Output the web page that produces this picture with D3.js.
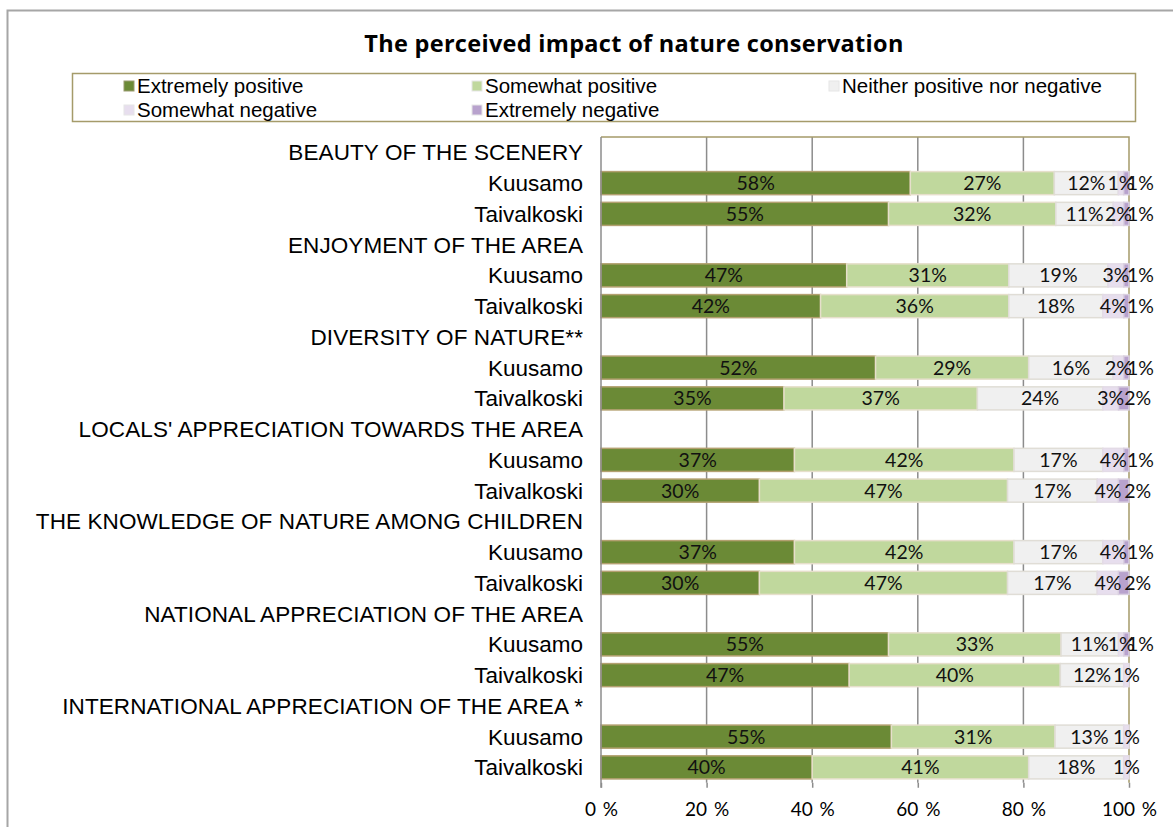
<!DOCTYPE html>
<html>
<head>
<meta charset="utf-8">
<script src="https://cdn.jsdelivr.net/npm/d3@7"></script>
<style>
  html, body { margin: 0; padding: 0; background: #fff; }
  svg { display: block; }
</style>
</head>
<body>
<svg id="chart" width="1173" height="827"></svg>
<script>
// Survey questions and the two municipalities answering each
const questions = [
  "BEAUTY OF THE SCENERY",
  "ENJOYMENT OF THE AREA",
  "DIVERSITY OF NATURE**",
  "LOCALS' APPRECIATION TOWARDS THE AREA",
  "THE KNOWLEDGE OF NATURE AMONG CHILDREN",
  "NATIONAL APPRECIATION OF THE AREA",
  "INTERNATIONAL APPRECIATION OF THE AREA *"
];
const places = ["Kuusamo", "Taivalkoski"];

// Answer categories (stack order, left to right)
const seriesNames = [
  "Extremely positive",
  "Somewhat positive",
  "Neither positive nor negative",
  "Somewhat negative",
  "Extremely negative"
];

// Percent shares per series, in row order:
// question 1 Kuusamo, question 1 Taivalkoski, question 2 Kuusamo, ...
const extremelyPositive = [58, 55, 47, 42, 52, 35, 37, 30, 37, 30, 55, 47, 55, 40];
const somewhatPositive  = [27, 32, 31, 36, 29, 37, 42, 47, 42, 47, 33, 40, 31, 41];
const neitherPosNeg     = [12, 11, 19, 18, 16, 24, 17, 17, 17, 17, 11, 12, 13, 18];
const somewhatNegative  = [ 1,  2,  3,  4,  2,  3,  4,  4,  4,  4,  1,  1,  1,  1];
const extremelyNegative = [ 1,  1,  1,  1,  1,  2,  1,  2,  1,  2,  1,  0,  0,  0];

const xTicks = [0, 0.2, 0.4, 0.6, 0.8, 1.0];
const xTickLabels = ["0 %", "20 %", "40 %", "60 %", "80 %", "100 %"];

const seriesValues = [extremelyPositive, somewhatPositive, neitherPosNeg, somewhatNegative, extremelyNegative];
const fills   = ["#6b8a36", "#c0d89d", "#f0f0f0", "#e7deee", "#b8a2cd"];
const strokes = ["#b3a070", "#e6dfcb", "#e0ddd6", "#e3dbe6", "#d9cfe0"];

// Build the row list: one header row per question, then one row per place
const rows = [];
let dataIndex = 0;
questions.forEach((q, qi) => {
  rows.push({ key: "q" + qi, label: q, header: true });
  places.forEach(p => {
    const rec = { key: "q" + qi + "-" + p, label: p, header: false };
    seriesNames.forEach((s, si) => { rec[s] = seriesValues[si][dataIndex]; });
    rows.push(rec);
    dataIndex++;
  });
});
const dataRows = rows.filter(r => !r.header);

const svg = d3.select("#chart");

// Outer chart frame
svg.append("rect")
  .attr("x", 7.5).attr("y", 10.5)
  .attr("width", 1200).attr("height", 900)
  .attr("fill", "none").attr("stroke", "#a6a6a6").attr("stroke-width", 2);

// Title
svg.append("text")
  .attr("x", 634).attr("y", 52)
  .attr("text-anchor", "middle")
  .attr("font-family", "'Open Sans', Lato, sans-serif")
  .attr("font-weight", "bold")
  .attr("font-size", 23.5)
  .attr("letter-spacing", 0.3)
  .attr("fill", "#000")
  .text("The perceived impact of nature conservation");

// Legend box
svg.append("rect")
  .attr("x", 72.5).attr("y", 73.5)
  .attr("width", 1063).attr("height", 48)
  .attr("fill", "#fff").attr("stroke", "#a59b6a").attr("stroke-width", 1.5);

const legendPos = [
  { x: 124, y: 86 }, { x: 472, y: 86 }, { x: 829, y: 86 },
  { x: 124, y: 110 }, { x: 472, y: 110 }
];
const legend = svg.append("g").selectAll("g")
  .data(seriesNames)
  .join("g")
  .attr("transform", (d, i) => `translate(${legendPos[i].x},${legendPos[i].y})`);
legend.append("rect")
  .attr("x", 0).attr("y", -5)
  .attr("width", 10).attr("height", 10)
  .attr("fill", (d, i) => fills[i])
  .attr("stroke", (d, i) => i === 0 ? "#9a9a70" : "#e6e6e6")
  .attr("stroke-width", 1);
legend.append("text")
  .attr("x", 13).attr("y", 0)
  .attr("dy", "0.35em")
  .attr("font-family", "'Liberation Sans', Arial, sans-serif")
  .attr("font-size", 20.5)
  .attr("fill", "#000")
  .text(d => d);

// Scales
const plotLeft = 601, plotRight = 1129, plotTop = 137, plotBottom = 782.75;
const x = d3.scaleLinear().domain([0, 1]).range([plotLeft, plotRight]);
const y = d3.scaleBand()
  .domain(rows.map(r => r.key))
  .range([plotTop, plotBottom])
  .paddingInner(0.25).paddingOuter(0.125);

// Vertical gridlines
svg.append("g").selectAll("line")
  .data(xTicks.slice(1, -1))
  .join("line")
  .attr("x1", d => x(d)).attr("x2", d => x(d))
  .attr("y1", plotTop).attr("y2", plotBottom)
  .attr("stroke", "#8c8c8c").attr("stroke-width", 1.5);

// Plot frame (top and right)
svg.append("path")
  .attr("d", `M${plotLeft},${plotTop}H${plotRight}V${plotBottom}`)
  .attr("fill", "none").attr("stroke", "#a59b6a").attr("stroke-width", 1.5);

// Bottom axis with percent ticks
const xAxis = svg.append("g")
  .attr("transform", `translate(0,${plotBottom})`)
  .call(d3.axisBottom(x).tickValues(xTicks)
    .tickFormat((d, i) => xTickLabels[i]).tickSize(5).tickPadding(15));
xAxis.select(".domain").remove();
xAxis.selectAll(".tick line").attr("stroke", "#8c8c8c").attr("stroke-width", 1.5);
xAxis.selectAll(".tick text")
  .attr("font-family", "Lato, 'Open Sans', sans-serif")
  .attr("font-size", 19)
  .attr("word-spacing", 2)
  .attr("fill", "#000");

// 100% stacked bars
const stack = d3.stack().keys(seriesNames).offset(d3.stackOffsetExpand);
const layers = stack(dataRows);

const layerG = svg.append("g").selectAll("g")
  .data(layers)
  .join("g")
  .attr("fill", (d, i) => fills[i])
  .attr("stroke", (d, i) => strokes[i]);
layerG.selectAll("rect")
  .data(d => d.filter(s => s.data[d.key] > 0))
  .join("rect")
  .attr("x", d => x(d[0]))
  .attr("y", d => y(d.data.key))
  .attr("width", d => x(d[1]) - x(d[0]))
  .attr("height", y.bandwidth())
  .attr("stroke-width", 1.5);

// Category axis line on the left
svg.append("line")
  .attr("x1", plotLeft).attr("x2", plotLeft)
  .attr("y1", plotTop).attr("y2", plotBottom + 5)
  .attr("stroke", "#8c8c8c").attr("stroke-width", 1.5);

// Row labels
svg.append("g").selectAll("text")
  .data(rows)
  .join("text")
  .attr("x", 583)
  .attr("y", d => y(d.key) + y.bandwidth() / 2)
  .attr("dy", "0.35em")
  .attr("text-anchor", "end")
  .attr("font-family", "'Liberation Sans', Arial, sans-serif")
  .attr("font-size", 22.5)
  .attr("letter-spacing", d => d.header ? 0.1 : 0)
  .attr("fill", "#000")
  .text(d => d.label);

// Value labels inside the segments
const lastKey = seriesNames[seriesNames.length - 1];
svg.append("g").selectAll("g")
  .data(layers)
  .join("g")
  .selectAll("text")
  .data(d => d.filter(s => s.data[d.key] > 0).map(s => ({ s, key: d.key })))
  .join("text")
  .attr("x", d => (x(d.s[0]) + x(d.s[1])) / 2 + (d.key === lastKey ? 14 : 0))
  .attr("y", d => y(d.s.data.key) + y.bandwidth() / 2)
  .attr("dy", "0.36em")
  .attr("text-anchor", "middle")
  .attr("font-family", "Lato, 'Open Sans', sans-serif")
  .attr("font-size", 19.5)
  .attr("fill", "#111")
  .text(d => d.s.data[d.key] + "%");
</script>
</body>
</html>
